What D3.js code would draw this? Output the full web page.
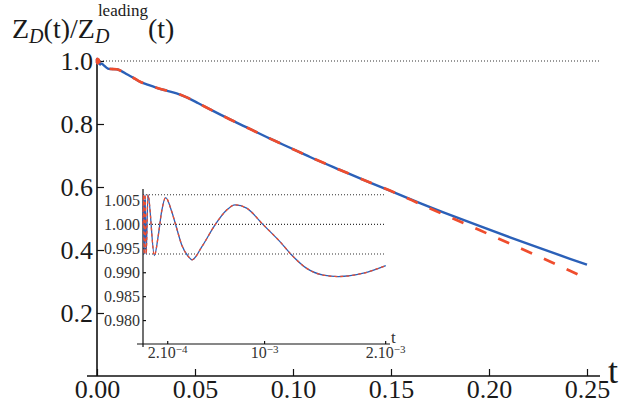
<!DOCTYPE html>
<html lang="en">
<head>
<meta charset="utf-8">
<style type="text/css">
    body { margin: 0; background: #fff; }
    .axis-line { stroke: #111; stroke-width: 1.6; }
    .inset-line { stroke: #111; stroke-width: 1.2; }
    .tick line { stroke: #111; stroke-width: 1.2; }
    .ref { stroke: #333; stroke-width: 1.1; stroke-dasharray: 1,2; fill: none; }
</style>
</head>
<body>
<svg width="622" height="403"></svg>

<script src="https://d3js.org/d3.v7.min.js"></script>
<script type="text/javascript">
    // early oscillating part (also shown in the inset)
    var insetT = [0, 0.000004, 0.000010, 0.000017, 0.000026, 0.000041, 0.000094, 0.000127,
                  0.000154, 0.000187, 0.000237, 0.000278, 0.000320, 0.000374, 0.000405, 0.000485,
                  0.000595, 0.000691, 0.000760, 0.000856, 0.000994, 0.001131, 0.001228, 0.001352,
                  0.001489, 0.001613, 0.001820, 0.002005];
    var insetZ = [1.000, 1.0062, 0.9938, 1.0062, 0.9938, 1.0062, 0.9935, 0.9978,
                  1.0027, 1.0056, 1.0027, 0.9992, 0.9957, 0.9933, 0.9926, 0.9953,
                  0.9999, 1.0030, 1.0041, 1.0034, 0.9999, 0.9964, 0.9936, 0.9908,
                  0.9894, 0.9891, 0.9898, 0.9914];

    // rest of the curve, t > 0.002
    var mainT = [0.0025, 0.0035, 0.0048, 0.0060, 0.0080, 0.0100, 0.0125, 0.0150, 0.0185, 0.0220,
                 0.0262, 0.0304, 0.0355, 0.0406, 0.0458, 0.0517, 0.0577, 0.0679, 0.0781, 0.0883,
                 0.0985, 0.1087, 0.1240, 0.1393, 0.1546, 0.1648, 0.1801, 0.1954, 0.2107, 0.2260,
                 0.2413, 0.2500];
    var blueZ = [0.9918, 0.986, 0.979, 0.975, 0.9745, 0.9738, 0.968, 0.9585, 0.947, 0.934,
                 0.924, 0.915, 0.906, 0.8975, 0.8845, 0.866, 0.8465, 0.8145, 0.784, 0.7535,
                 0.7245, 0.6952, 0.6542, 0.6141, 0.5751, 0.549, 0.5115, 0.4755, 0.4403, 0.4059,
                 0.3722, 0.3535];
    var redZ  = [0.9918, 0.986, 0.979, 0.975, 0.9745, 0.9738, 0.968, 0.9585, 0.947, 0.934,
                 0.924, 0.915, 0.906, 0.8975, 0.8845, 0.866, 0.8465, 0.8145, 0.784, 0.7535,
                 0.7245, 0.6952, 0.6542, 0.6141, 0.5751, 0.546, 0.504, 0.4625, 0.420, 0.378,
                 0.334, 0.309];

    var xMajor = [0, 0.05, 0.10, 0.15, 0.20, 0.25];
    var xMinor = [0.01, 0.02, 0.03, 0.04, 0.06, 0.07, 0.08, 0.09, 0.11, 0.12, 0.13, 0.14,
                  0.16, 0.17, 0.18, 0.19, 0.21, 0.22, 0.23, 0.24];
    var yMajor = [0.2, 0.4, 0.6, 0.8, 1.0];
    var yMinor = [0.05, 0.1, 0.15, 0.25, 0.3, 0.35, 0.45, 0.5, 0.55, 0.65, 0.7, 0.75, 0.85, 0.9, 0.95];

    var insetYTicks = [0.980, 0.985, 0.990, 0.995, 1.000, 1.005];
    var insetXTicks = [0.0002, 0.001, 0.002];
    var insetXLabels = [["2.10", "\u22124"], ["10", "\u22123"], ["2.10", "\u22123"]];
    var insetRefs = [1.0062, 1.000, 0.9938];

    var blue = "#2b60b8", red = "#ef4d2d";
    var serif = "'Liberation Serif'";

    var svg = d3.select("svg");

    var x = d3.scaleLinear().domain([0, 0.25]).range([97, 587]);
    var y = d3.scaleLinear().domain([0, 1]).range([376, 61]);

    var xi = d3.scaleLinear().domain([0, 0.00204]).range([143, 390]);
    var yi = d3.scaleLinear().domain([0.975, 1.0074]).range([344, 189]);

    function series(zs) {
        return insetT.map(function (t, i) { return [t, insetZ[i]]; })
            .concat(mainT.map(function (t, i) { return [t, zs[i]]; }));
    }

    // dotted line at 1
    svg.append("line").attr("class", "ref")
        .attr("x1", x(0)).attr("x2", x.range()[1] + 13)
        .attr("y1", y(1)).attr("y2", y(1));

    // main axes
    var gx = svg.append("g").attr("transform", "translate(0," + y(0) + ")");
    gx.call(d3.axisBottom(x).tickValues(xMinor).tickSize(-4).tickFormat(""));
    gx.call(d3.axisBottom(x).tickValues(xMajor).tickSize(-7).tickPadding(4).tickFormat(d3.format(".2f")));
    gx.selectAll(".domain").remove();

    var gy = svg.append("g").attr("transform", "translate(" + x(0) + ",0)");
    gy.call(d3.axisLeft(y).tickValues(yMinor).tickSize(-4).tickFormat(""));
    gy.call(d3.axisLeft(y).tickValues(yMajor).tickSize(-7).tickPadding(4).tickFormat(d3.format(".1f")));
    gy.selectAll(".domain").remove();

    [gx, gy].forEach(function (g) {
        g.attr("font-family", null).attr("font-size", null);
        g.selectAll("text").style("font-family", serif).style("font-size", "26px").attr("fill", "#1a1a1a");
    });

    svg.append("line").attr("class", "axis-line")
        .attr("x1", x.range()[0] - 10).attr("x2", x.range()[1] + 13)
        .attr("y1", y(0)).attr("y2", y(0));
    svg.append("line").attr("class", "axis-line")
        .attr("x1", x(0)).attr("x2", x(0))
        .attr("y1", y(0)).attr("y2", y(1) - 2);

    // main curves
    var line = d3.line()
        .x(function (d) { return x(d[0]); })
        .y(function (d) { return y(d[1]); })
        .curve(d3.curveMonotoneX);

    svg.append("path").datum(series(blueZ))
        .attr("d", line).attr("fill", "none")
        .attr("stroke", blue).attr("stroke-width", 2.4);
    svg.append("path").datum(series(redZ))
        .attr("d", line).attr("fill", "none")
        .attr("stroke", red).attr("stroke-width", 2.7)
        .attr("stroke-dasharray", "12,13");

    // axis labels
    svg.append("text").attr("x", 608).attr("y", 383)
        .style("font-family", serif).style("font-size", "36px").attr("fill", "#1a1a1a").text("t");

    var lab = svg.append("g");
    var cx = 12;
    function put(str, size, dy, italic, at) {
        var t = lab.append("text").attr("x", at).attr("y", dy)
            .style("font-family", serif).style("font-size", size + "px")
            .attr("fill", "#1a1a1a").text(str);
        if (italic) t.style("font-style", "italic");
        return t.node().getComputedTextLength();
    }
    cx += put("Z", 28, 38, false, cx);
    cx += put("D", 20, 43, true, cx);
    cx += put("(t)/Z", 28, 38, false, cx);
    var wD = put("D", 20, 43, true, cx);
    var wL = put("leading", 17, 16, false, cx + 3);
    cx += Math.max(wD, wL + 3);
    put("(t)", 28, 38, false, cx);

    // inset
    var inset = svg.append("g");

    inset.selectAll(".iref").data(insetRefs).enter().append("line")
        .attr("class", "ref")
        .attr("x1", xi(0)).attr("x2", xi(0.002))
        .attr("y1", function (d) { return yi(d); })
        .attr("y2", function (d) { return yi(d); });

    var gxi = inset.append("g").attr("transform", "translate(0," + yi.range()[0] + ")");
    gxi.call(d3.axisBottom(xi).tickValues(insetXTicks).tickSize(-3).tickPadding(3).tickFormat(""));
    gxi.selectAll(".domain").remove();
    gxi.attr("font-family", null);
    gxi.selectAll(".tick text").each(function (d, i) {
        var t = d3.select(this).style("font-family", serif).style("font-size", "16px").attr("fill", "#333");
        t.append("tspan").text(insetXLabels[i][0]);
        t.append("tspan").attr("dy", "-0.45em").style("font-size", "11px").text(insetXLabels[i][1]);
    });

    var gyi = inset.append("g").attr("transform", "translate(" + xi(0) + ",0)");
    gyi.call(d3.axisLeft(yi).tickValues(insetYTicks).tickSize(-3).tickPadding(3).tickFormat(d3.format(".3f")));
    gyi.selectAll(".domain").remove();
    gyi.attr("font-family", null);
    gyi.selectAll("text").style("font-family", serif).style("font-size", "16px").attr("fill", "#333");

    inset.append("line").attr("class", "inset-line")
        .attr("x1", xi.range()[0] - 6).attr("x2", xi.range()[1])
        .attr("y1", yi.range()[0]).attr("y2", yi.range()[0]);
    inset.append("line").attr("class", "inset-line")
        .attr("x1", xi(0)).attr("x2", xi(0))
        .attr("y1", yi.range()[0] + 3).attr("y2", yi.range()[1]);

    inset.append("text").attr("x", xi.range()[1] + 1).attr("y", yi.range()[0] - 1.5)
        .style("font-family", serif).style("font-size", "17px").attr("fill", "#333").text("t");

    var iline = d3.line()
        .x(function (d, i) { return xi(d); })
        .y(function (d, i) { return yi(insetZ[i]); })
        .curve(d3.curveMonotoneX);

    inset.append("path").datum(insetT)
        .attr("d", iline).attr("fill", "none")
        .attr("stroke", blue).attr("stroke-width", 1.3);
    inset.append("path").datum(insetT)
        .attr("d", iline).attr("fill", "none")
        .attr("stroke", red).attr("stroke-width", 1.3)
        .attr("stroke-dasharray", "3,3");
</script>
</body>
</html>
